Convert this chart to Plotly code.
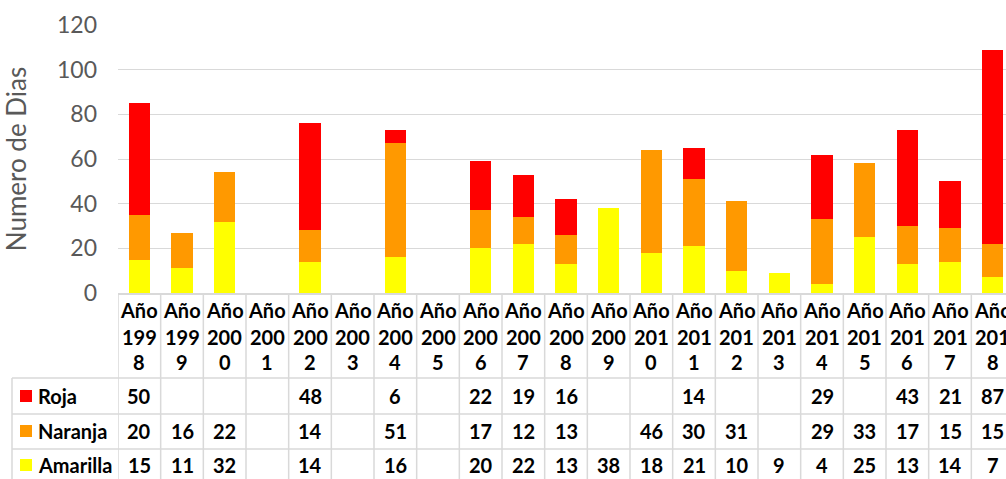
import plotly.graph_objects as go

years = ["1998", "1999", "2000", "2001", "2002", "2003", "2004", "2005", "2006", "2007",
         "2008", "2009", "2010", "2011", "2012", "2013", "2014", "2015", "2016", "2017", "2018"]
categories = ["Año " + y for y in years]
roja = [50, None, None, None, 48, None, 6, None, 22, 19, 16, None, None, 14, None, None, 29, None, 43, 21, 87]
naranja = [20, 16, 22, None, 14, None, 51, None, 17, 12, 13, None, 46, 30, 31, None, 29, 33, 17, 15, 15]
amarilla = [15, 11, 32, None, 14, None, 16, None, 20, 22, 13, 38, 18, 21, 10, 9, 4, 25, 13, 14, 7]

series = [("Roja", roja, "#FF0000"), ("Naranja", naranja, "#FF9900"), ("Amarilla", amarilla, "#FFFF00")]

W, H = 1006, 479
L, T = 118, 25
BOT = 293          # plot bottom in px
B = H - BOT
PH = BOT - T
PW = W - L
CAT_PX = (1014 - 118) / len(years)

def py(p):  # pixel y -> paper
    return (BOT - p) / PH

def px(p):  # pixel x -> paper
    return (p - L) / PW

fig = go.Figure()
xs = list(range(len(categories)))
for name, vals, col in reversed(series):
    fig.add_trace(go.Bar(x=xs, y=vals, name=name, marker=dict(color=col, line=dict(width=0)),
                         width=0.5, showlegend=False))

fig.update_layout(
    barmode="stack",
    width=W, height=H,
    margin=dict(l=L, r=0, t=T, b=B, autoexpand=False),
    plot_bgcolor="white", paper_bgcolor="white",
    font=dict(family="Lato, Open Sans, sans-serif"),
)
fig.update_yaxes(range=[0, 120], dtick=20, showgrid=True, gridcolor="#D9D9D9", gridwidth=1,
                 zeroline=False, tickfont=dict(size=23, color="#595959"),
                 ticklabelstandoff=20, automargin=False,
                 title=dict(text="Numero de Dias", font=dict(size=26, color="#595959"), standoff=22))
fig.update_xaxes(range=[-0.5, -0.5 + PW / CAT_PX], showticklabels=False, showgrid=False,
                 zeroline=False, showline=True, linecolor="#D9D9D9", linewidth=1.5, ticks="",
                 automargin=False)

line_col = "#D9D9D9"
shapes = []
# column separators
for i in range(0, len(categories)):
    shapes.append(dict(type="line", xref="x", yref="paper", x0=i - 0.5, x1=i - 0.5, y0=0, y1=py(H + 40),
                       line=dict(color=line_col, width=1.5)))
# legend box left edge
shapes.append(dict(type="line", xref="paper", yref="paper", x0=px(12), x1=px(12), y0=py(378), y1=py(H + 40),
                   line=dict(color=line_col, width=1.5)))
for yy in [378, 414, 449]:
    shapes.append(dict(type="line", xref="paper", yref="paper", x0=px(12), x1=1, y0=py(yy), y1=py(yy),
                       line=dict(color=line_col, width=1.5)))

FS = 20
annotations = []
# header labels
for i, c in enumerate(categories):
    word, yr = c.split(" ")
    for txt, yy in [(word, 310), (yr[:3], 337), (yr[3:], 362)]:
        annotations.append(dict(x=i, xref="x", y=py(yy), yref="paper", text="<b>" + txt + "</b>",
                                showarrow=False, xanchor="center", yanchor="middle",
                                font=dict(size=FS, color="black")))

row_y = [396, 431, 465]
for (name, vals, col), yy in zip(series, row_y):
    shapes.append(dict(type="rect", xref="paper", yref="paper", x0=px(20), x1=px(32),
                       y0=py(yy - 6), y1=py(yy + 6), fillcolor=col, line=dict(width=0)))
    annotations.append(dict(x=px(36), xref="paper", y=py(yy), yref="paper", text="<b>" + name + "</b>",
                            showarrow=False, xanchor="left", yanchor="middle",
                            font=dict(size=FS, color="black")))
    for i, v in enumerate(vals):
        if v is None:
            continue
        annotations.append(dict(x=i, xref="x", y=py(yy), yref="paper", text="<b>" + str(v) + "</b>",
                                showarrow=False, xanchor="center", yanchor="middle",
                                font=dict(size=FS, color="black")))

fig.update_layout(shapes=shapes, annotations=annotations)
fig.write_html("out.html", config={"displayModeBar": False},
               post_script="document.body.style.margin='0';document.body.style.overflow='hidden';")
